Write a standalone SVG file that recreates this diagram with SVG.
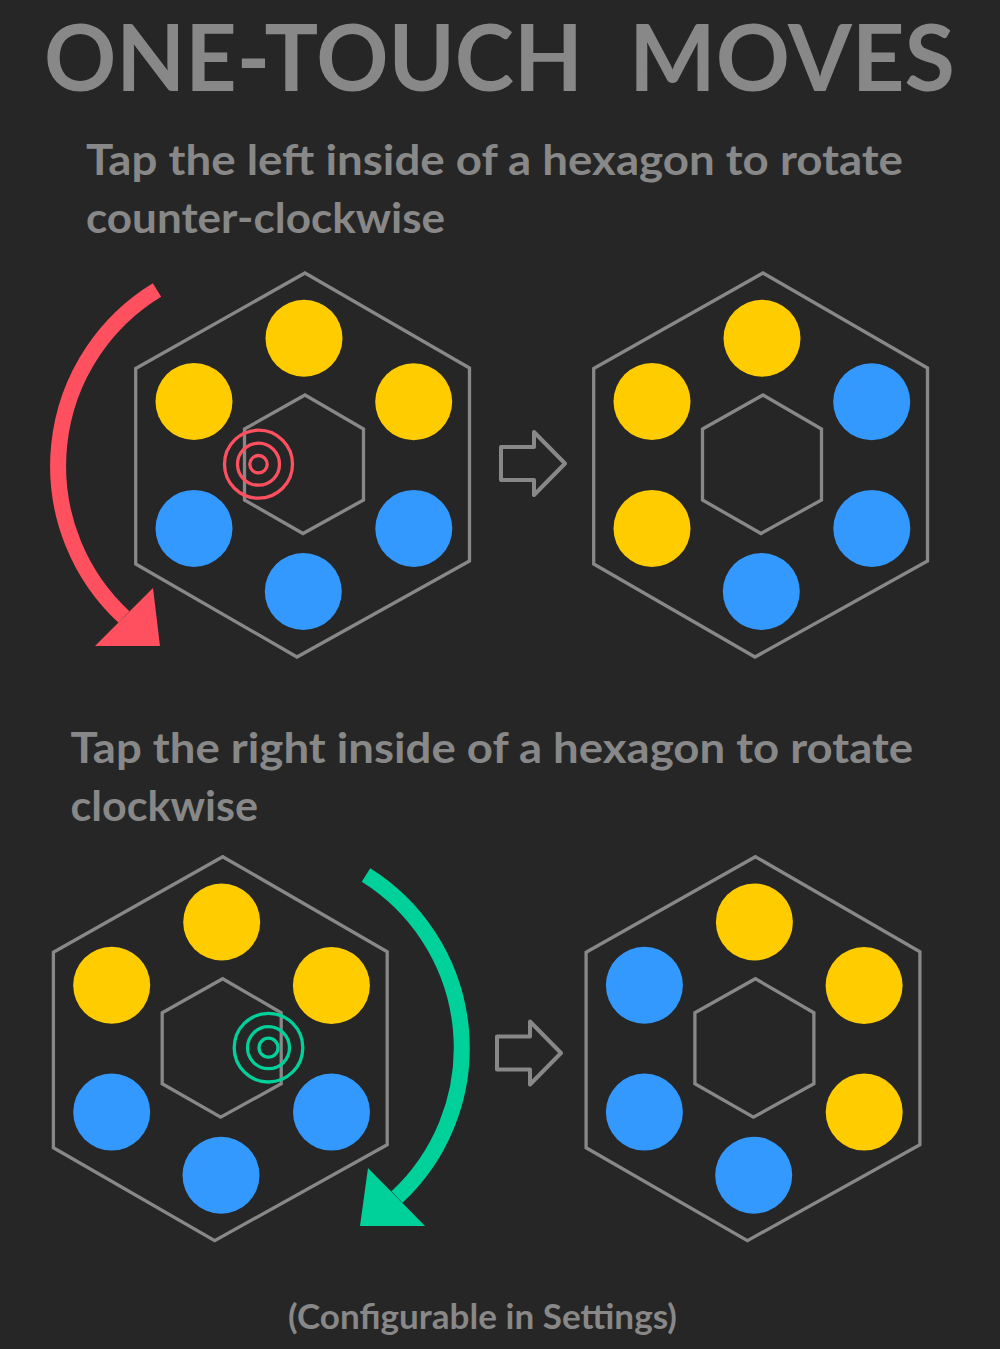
<svg xmlns="http://www.w3.org/2000/svg" width="1000" height="1349" viewBox="0 0 1000 1349">
<style>
.bg{fill:#262626}
.txt{font-family:Lato,"Open Sans","Liberation Sans",sans-serif;font-weight:bold;fill:#888888}
.hex{fill:none;stroke:#888888;stroke-width:3.3;stroke-linejoin:miter}
.y{fill:#FFCC00}
.b{fill:#3399FF}
.tapR{fill:none;stroke:#FF5060;stroke-width:3.3}
.tapG{fill:none;stroke:#00D09A;stroke-width:3.3}
.next{fill:none;stroke:#888888;stroke-width:4;stroke-linejoin:round}
</style>
<defs>
<polygon id="outer" points="305,273 469.5,368 469.5,561 297,657 135.7,564 135.7,368.5"/>
<polygon id="inner" points="305,395 363.5,429 363.5,500 303,533.5 244.5,500 244.5,429"/>
</defs>
<rect class="bg" x="0" y="0" width="1000" height="1349"/>

<g id="title">
<text class="txt" y="91" font-size="92"><tspan x="44" textLength="539" lengthAdjust="spacingAndGlyphs">ONE-TOUCH</tspan><tspan x="629" textLength="326" lengthAdjust="spacingAndGlyphs">MOVES</tspan></text>
</g>

<g id="caption-ccw">
<text class="txt" x="86" y="175" font-size="42" textLength="817" lengthAdjust="spacingAndGlyphs">Tap the left inside of a hexagon to rotate</text>
<text class="txt" x="86" y="233" font-size="42" textLength="359" lengthAdjust="spacingAndGlyphs">counter-clockwise</text>
</g>

<g id="caption-cw">
<text class="txt" x="70.5" y="763" font-size="42" textLength="842.5" lengthAdjust="spacingAndGlyphs">Tap the right inside of a hexagon to rotate</text>
<text class="txt" x="70.5" y="821" font-size="42" textLength="187.5" lengthAdjust="spacingAndGlyphs">clockwise</text>
</g>

<g id="hex-ccw-before">
<use href="#outer" class="hex"/>
<use href="#inner" class="hex"/>
<circle class="y" cx="304" cy="338.3" r="38.5"/>
<circle class="y" cx="194" cy="401.5" r="38.5"/>
<circle class="y" cx="413.7" cy="401.8" r="38.5"/>
<circle class="b" cx="194" cy="528.4" r="38.5"/>
<circle class="b" cx="413.8" cy="528.4" r="38.5"/>
<circle class="b" cx="303.3" cy="591.5" r="38.5"/>
</g>

<g id="tap-left">
<circle class="tapR" cx="258.5" cy="464.2" r="34"/>
<circle class="tapR" cx="258.5" cy="464.2" r="21"/>
<circle class="tapR" cx="258.5" cy="464.2" r="8.7"/>
</g>

<g id="hex-ccw-after" transform="translate(458,0)">
<use href="#outer" class="hex"/>
<use href="#inner" class="hex"/>
<circle class="y" cx="304" cy="338.3" r="38.5"/>
<circle class="y" cx="194" cy="401.5" r="38.5"/>
<circle class="b" cx="413.7" cy="401.8" r="38.5"/>
<circle class="y" cx="194" cy="528.4" r="38.5"/>
<circle class="b" cx="413.8" cy="528.4" r="38.5"/>
<circle class="b" cx="303.3" cy="591.5" r="38.5"/>
</g>

<g id="hex-cw-before" transform="translate(-82.3,583.7)">
<use href="#outer" class="hex"/>
<use href="#inner" class="hex"/>
<circle class="y" cx="304" cy="338.3" r="38.5"/>
<circle class="y" cx="194" cy="401.5" r="38.5"/>
<circle class="y" cx="413.7" cy="401.8" r="38.5"/>
<circle class="b" cx="194" cy="528.4" r="38.5"/>
<circle class="b" cx="413.8" cy="528.4" r="38.5"/>
<circle class="b" cx="303.3" cy="591.5" r="38.5"/>
</g>

<g id="tap-right">
<circle class="tapG" cx="268.5" cy="1047.7" r="34.3"/>
<circle class="tapG" cx="268.5" cy="1047.7" r="21"/>
<circle class="tapG" cx="268.5" cy="1047.7" r="9.5"/>
</g>

<g id="hex-cw-after" transform="translate(450.4,583.7)">
<use href="#outer" class="hex"/>
<use href="#inner" class="hex"/>
<circle class="y" cx="304" cy="338.3" r="38.5"/>
<circle class="b" cx="194" cy="401.5" r="38.5"/>
<circle class="y" cx="413.7" cy="401.8" r="38.5"/>
<circle class="b" cx="194" cy="528.4" r="38.5"/>
<circle class="y" cx="413.8" cy="528.4" r="38.5"/>
<circle class="b" cx="303.3" cy="591.5" r="38.5"/>
</g>

<g id="connectors">
<path d="M157,290 A206,206 0 0 0 124,617" fill="none" stroke="#FF5060" stroke-width="16"/>
<polygon points="153,588 160,646 95,646" fill="#FF5060"/>
<path d="M366,875 A204,204 0 0 1 397,1197" fill="none" stroke="#00D09A" stroke-width="16"/>
<polygon points="368,1168 360,1226 425,1226" fill="#00D09A"/>
<polygon class="next" points="501,447 534,447 534,432 565,463.5 534,495 534,480 501,480"/>
<polygon class="next" points="497,1036.5 530,1036.5 530,1021.5 561,1053 530,1084.5 530,1069.5 497,1069.5"/>
</g>

<g id="footer">
<text class="txt" x="288" y="1329" font-size="34" textLength="389" lengthAdjust="spacingAndGlyphs">(Configurable in Settings)</text>
</g>
</svg>
